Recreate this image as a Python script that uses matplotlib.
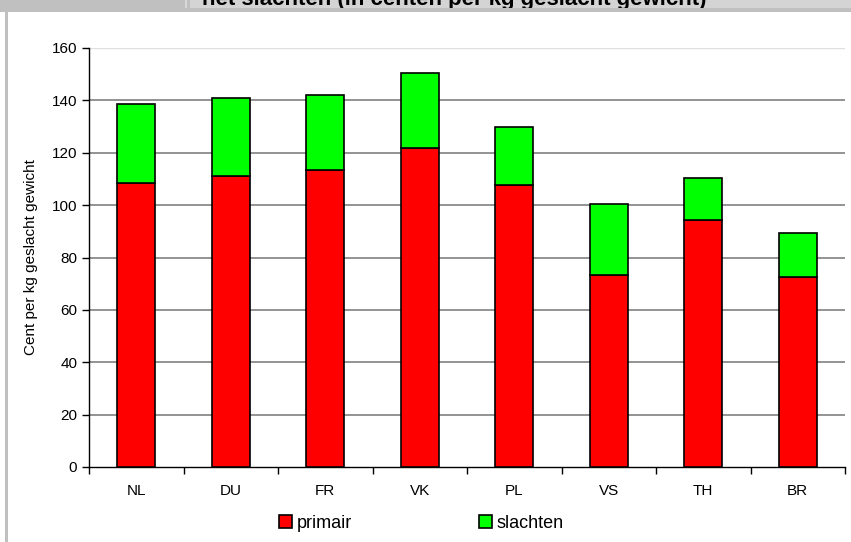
import matplotlib
matplotlib.use("Agg")
import matplotlib.pyplot as plt
from matplotlib.patches import Rectangle
import numpy as np

plt.rcParams['font.family'] = ['Liberation Sans Narrow', 'Liberation Sans', 'DejaVu Sans']

landen = ['NL', 'DU', 'FR', 'VK', 'PL', 'VS', 'TH', 'BR']
primair = [108.5, 111, 113.5, 122, 107.5, 73.5, 94.5, 72.5]
slachten = [30, 30, 28.5, 28.5, 22.5, 27, 16, 17]

W, H = 851, 542
fig = plt.figure(figsize=(W / 100, H / 100), dpi=100)

# grey frame / cut-off title band at the top
fig.patches.append(Rectangle((0, 1 - 12/H), 1, 12/H, transform=fig.transFigure,
                             facecolor='#c0c0c0', edgecolor='none', zorder=0))
fig.patches.append(Rectangle((190/W, 1 - 8/H), 1, 8/H, transform=fig.transFigure,
                             facecolor='#d4d4d4', edgecolor='none', zorder=1))
fig.patches.append(Rectangle((185/W, 1 - 8/H), 1.5/W, 8/H, transform=fig.transFigure,
                             facecolor='#d8d8d8', edgecolor='none', zorder=1))
fig.patches.append(Rectangle((5/W, 0), 3/W, 1, transform=fig.transFigure,
                             facecolor='#c0c0c0', edgecolor='none', zorder=0))
fig.text(202/W, 1 - 5/H, 'het slachten (in centen per kg geslacht gewicht)',
         fontsize=16, fontweight='bold', family=['Liberation Sans', 'DejaVu Sans'],
         va='baseline', ha='left', zorder=2)
# cover the part of the title that would spill into the band below
fig.patches.append(Rectangle((190/W, 1 - 12/H), 1, 4/H, transform=fig.transFigure,
                             facecolor='#c0c0c0', edgecolor='none', zorder=3))

ax = fig.add_axes([89/W, 1 - 467/H, (845 - 89)/W, (467 - 48)/H])
x = np.arange(len(landen))
ax.bar(x, primair, width=0.4, color='#ff0000', edgecolor='black', linewidth=1.2,
       label='primair', zorder=3)
ax.bar(x, slachten, width=0.4, bottom=primair, color='#00ff00', edgecolor='black',
       linewidth=1.2, label='slachten', zorder=3)

ax.set_xlim(-0.5, len(landen) - 0.5)
ax.set_ylim(0, 160)
ax.set_yticks(np.arange(0, 161, 20))
for v in range(20, 160, 20):
    ax.axhline(v, color='#808080', linewidth=1.2, zorder=1)
ax.axhline(160, color='#e0e0e0', linewidth=1, zorder=1)

ax.set_xticks(x)
ax.set_xticklabels(landen, fontsize=11)
ax.set_xticks(np.arange(-0.5, len(landen), 1), minor=True)
ax.tick_params(axis='x', which='major', length=0, pad=12)
ax.tick_params(axis='x', which='minor', length=5, width=1, direction='out')
ax.tick_params(axis='y', labelsize=11, length=5, width=1, direction='out')

for s in ['top', 'right']:
    ax.spines[s].set_visible(False)
ax.spines['left'].set_linewidth(1)
ax.spines['bottom'].set_linewidth(1)

ax.set_ylabel('Cent per kg geslacht gewicht', fontsize=11, labelpad=10)

ax.legend(loc='upper center', bbox_to_anchor=(0.44, -0.075), ncol=2, frameon=False,
          fontsize=13, handlelength=0.7, handleheight=0.7, handletextpad=0.3,
          columnspacing=7)

plt.savefig('out.png', dpi=100)
